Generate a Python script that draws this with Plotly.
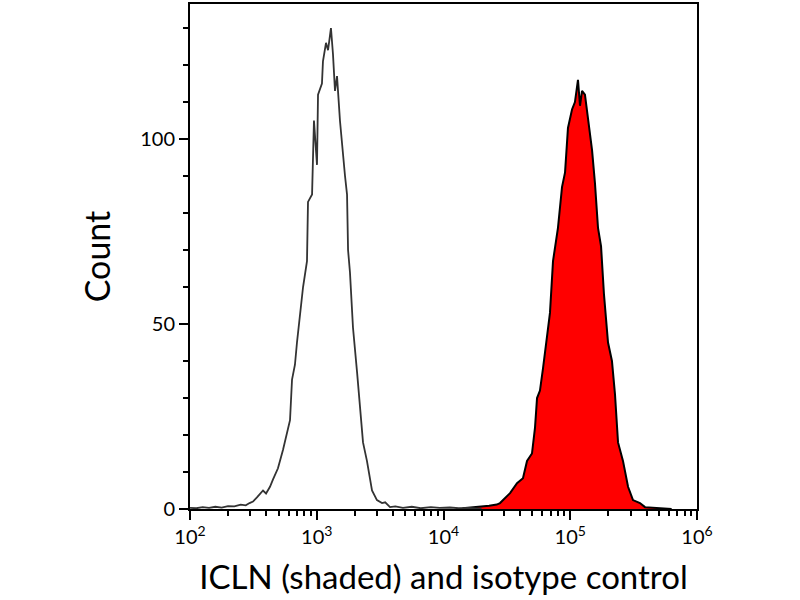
import plotly.graph_objects as go

# isotype control histogram (log10 of fluorescence, count)
iso_log = [2.00, 2.05, 2.10, 2.15, 2.20, 2.25, 2.30, 2.35, 2.40, 2.44, 2.47,
           2.497, 2.53, 2.576, 2.60, 2.631, 2.655, 2.694, 2.734, 2.765, 2.789,
           2.805, 2.828, 2.844, 2.868, 2.892, 2.923, 2.931, 2.963, 2.978,
           3.002, 3.010, 3.041, 3.049, 3.073, 3.089, 3.112, 3.128, 3.144,
           3.160, 3.183, 3.199, 3.223, 3.239, 3.247, 3.262, 3.286, 3.318,
           3.341, 3.365, 3.396, 3.436, 3.475, 3.515, 3.54, 3.578, 3.62, 3.68,
           3.75, 3.82, 3.90, 3.97, 4.05, 4.12, 4.20, 4.30]
iso_cnt = [0.3, 0.2, 0.5, 0.3, 0.6, 0.4, 0.8, 0.7, 1.2, 1.0, 1.6,
           2.0, 3.2, 5.0, 4.2, 6.0, 8.0, 11.0, 16.0, 21.0, 24.0,
           35.0, 39.0, 45.0, 53.0, 60.0, 67.0, 83.0, 85.0, 105.0,
           93.0, 112.0, 115.0, 121.0, 126.0, 124.0, 130.0, 123.0, 113.0,
           117.0, 105.0, 98.0, 90.0, 85.0, 70.0, 64.0, 49.0, 37.0,
           28.0, 18.0, 13.0, 5.0, 2.4, 1.6, 1.8, 0.5, 0.7, 0.3,
           0.6, 0.2, 0.5, 0.3, 0.4, 0.2, 0.3, 0.0]

# ICLN stained histogram (shaded)
icln_log = [4.15, 4.22, 4.288, 4.36, 4.42, 4.446, 4.525, 4.580, 4.627, 4.659,
            4.698, 4.722, 4.738, 4.761, 4.785, 4.817, 4.840, 4.864, 4.903,
            4.935, 4.959, 4.982, 5.014, 5.037, 5.061, 5.077, 5.093, 5.116,
            5.140, 5.172, 5.195, 5.219, 5.243, 5.266, 5.298, 5.329, 5.353,
            5.377, 5.416, 5.456, 5.495, 5.550, 5.590, 5.65, 5.72, 5.80]
icln_cnt = [0.2, 0.4, 0.5, 0.9, 1.2, 1.6, 4.3, 7.0, 8.3, 13.0,
            15.0, 22.0, 30.0, 32.0, 38.0, 46.0, 53.0, 67.0, 76.0,
            87.0, 91.0, 103.0, 108.0, 110.0, 116.0, 109.0, 113.0, 112.0,
            106.0, 97.0, 88.0, 76.0, 71.0, 58.0, 45.0, 40.0, 31.0,
            18.0, 13.0, 6.0, 2.4, 1.6, 0.5, 0.3, 0.2, 0.0]

x_major = [2, 3, 4, 5, 6]
x_major_text = ["10<sup>%d</sup>" % e for e in x_major]
x_minor = [m * 10 ** e for e in range(2, 6) for m in range(2, 10)]

fig = go.Figure()
fig.add_trace(go.Scatter(
    x=[10 ** v for v in icln_log], y=icln_cnt, mode="lines",
    fill="tozeroy", fillcolor="#ff0000",
    line=dict(color="black", width=2), showlegend=False))
fig.add_trace(go.Scatter(
    x=[10 ** v for v in iso_log], y=iso_cnt, mode="lines",
    line=dict(color="#333333", width=1.8), showlegend=False))

font_name = "Lato, DejaVu Sans, sans-serif"

fig.update_layout(
    width=800, height=600,
    margin=dict(l=190, r=103, t=2, b=91),
    paper_bgcolor="white", plot_bgcolor="white",
    font=dict(family=font_name, color="black"),
    xaxis=dict(
        type="log", range=[2, 6],
        tickvals=[10 ** e for e in x_major], ticktext=x_major_text,
        ticks="outside", ticklen=9, tickwidth=2, tickcolor="black",
        minor=dict(tickvals=x_minor, ticks="outside", ticklen=5,
                   tickwidth=1.5, tickcolor="black"),
        showline=True, linecolor="black", linewidth=2, mirror=True,
        showgrid=False, zeroline=False,
        tickfont=dict(size=20),
        title=dict(text="ICLN (shaded) and isotype control",
                   font=dict(size=33), standoff=19)),
    yaxis=dict(
        range=[0, 136.5],
        tickvals=[0, 50, 100],
        ticks="outside", ticklen=9, tickwidth=2, tickcolor="black",
        minor=dict(dtick=10, ticks="outside", ticklen=5, tickwidth=1.5,
                   tickcolor="black"),
        showline=True, linecolor="black", linewidth=2, mirror=True,
        showgrid=False, zeroline=False,
        tickfont=dict(size=20),
        title=dict(text="Count", font=dict(size=34), standoff=19)),
)

fig.write_html("out.html", config={"displayModeBar": False},
               post_script="document.body.style.margin='0';")
